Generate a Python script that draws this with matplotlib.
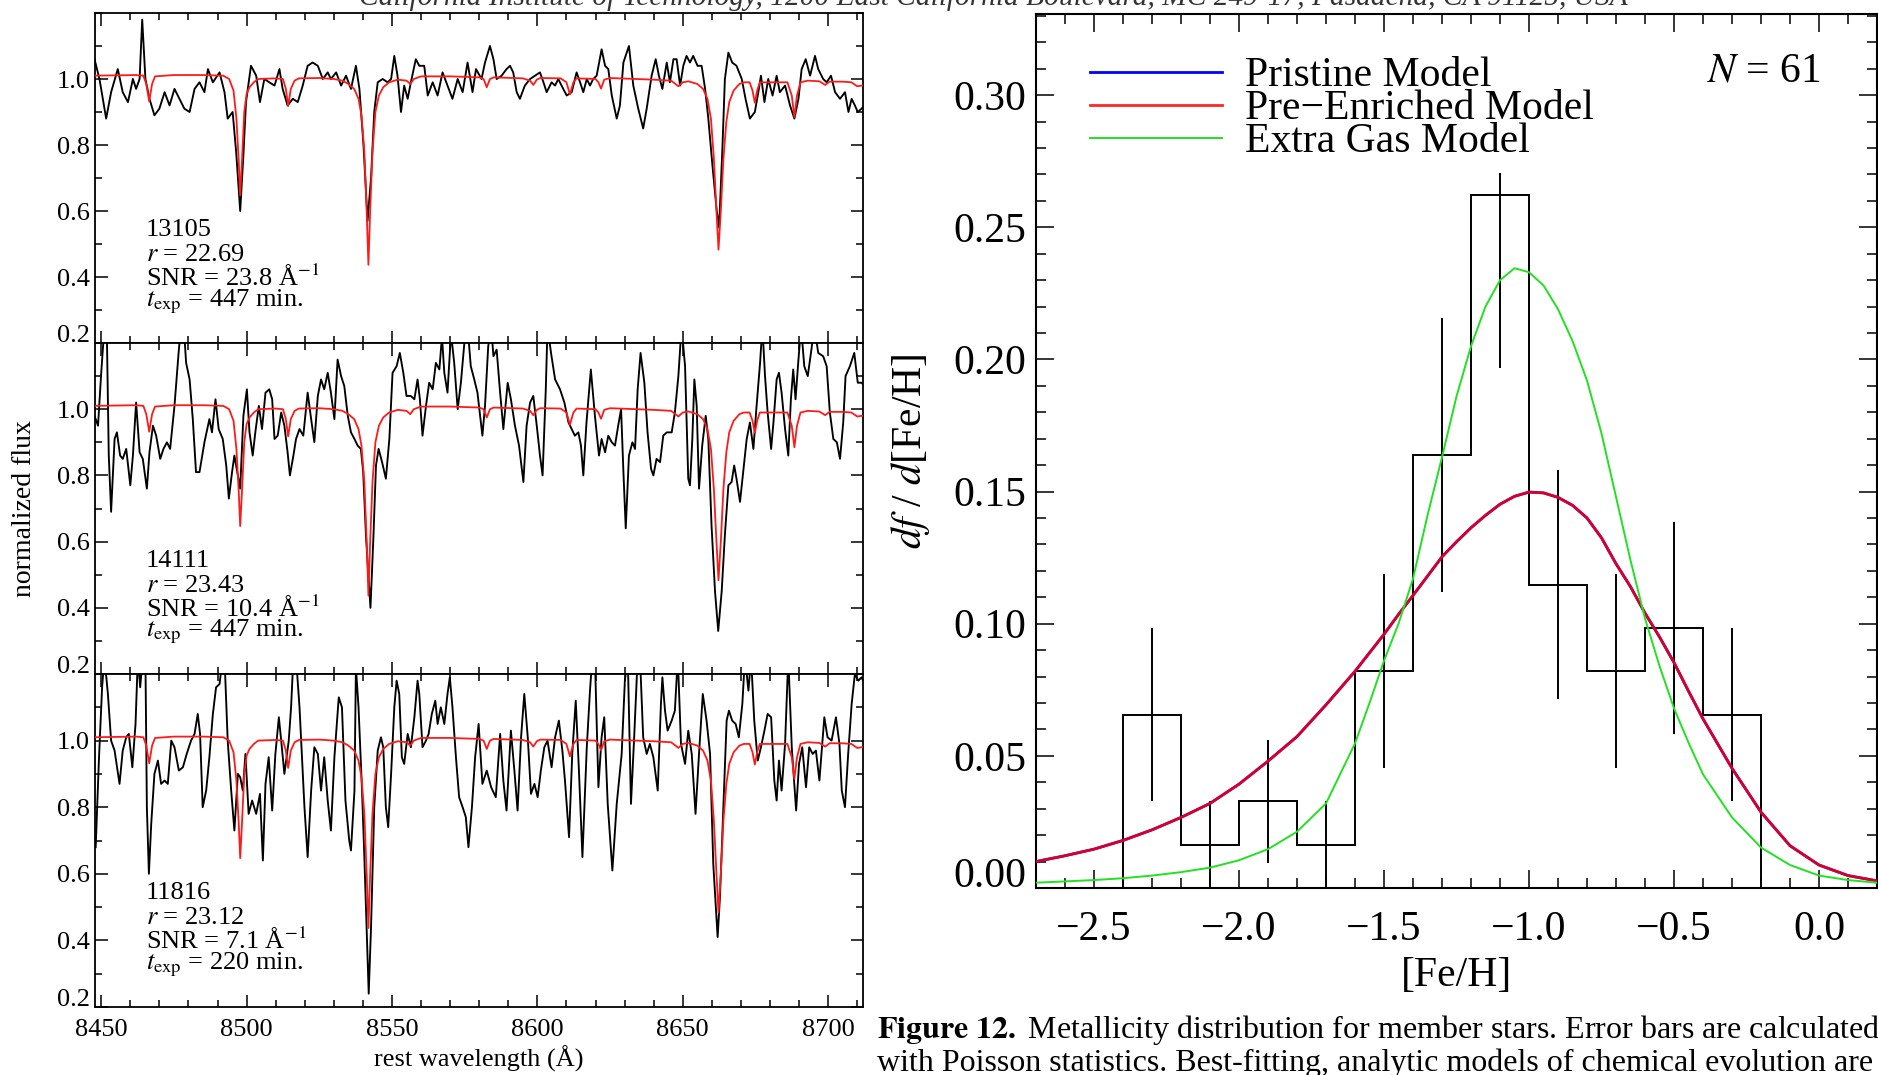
import matplotlib
matplotlib.use('Agg')
import matplotlib.pyplot as plt
from matplotlib.ticker import MultipleLocator
from matplotlib.transforms import ScaledTranslation

plt.rcParams['font.family'] = ['Liberation Serif', 'DejaVu Serif']
plt.rcParams['mathtext.fontset'] = 'stix'
plt.rcParams['axes.unicode_minus'] = True

# ---------------- spectra (rest wavelength, normalized flux) ----------------
wave_13105 = [8447.7, 8449.4, 8451.7, 8453.4, 8455.7, 8457.4, 8459.2, 8460.9, 8462.0, 8463.2,
              8464.1, 8465.2, 8466.6, 8468.3, 8470.0, 8471.8, 8473.5, 8475.2, 8476.9, 8478.6,
              8480.4, 8482.1, 8483.8, 8485.5, 8486.7, 8488.4, 8490.7, 8492.4, 8493.5, 8495.2,
              8496.4, 8497.8, 8498.9, 8499.8, 8501.5, 8503.3, 8504.6, 8506.1, 8507.8, 8509.6,
              8511.3, 8512.4, 8514.1, 8515.9, 8517.6, 8519.3, 8521.0, 8522.7, 8524.5, 8526.2,
              8527.9, 8529.0, 8530.8, 8532.5, 8534.2, 8535.9, 8537.6, 8538.8, 8540.2, 8541.6,
              8542.8, 8543.9, 8545.1, 8546.8, 8548.5, 8549.7, 8550.8, 8551.9, 8553.1, 8554.2,
              8555.4, 8556.5, 8558.2, 8559.4, 8561.1, 8562.3, 8564.0, 8565.7, 8567.4, 8569.1,
              8570.8, 8572.6, 8574.3, 8576.0, 8577.7, 8578.9, 8580.8, 8582.0, 8583.7, 8584.9,
              8586.0, 8587.7, 8589.4, 8590.6, 8591.7, 8592.9, 8594.0, 8595.7, 8597.5, 8599.2,
              8600.9, 8602.1, 8603.2, 8604.9, 8606.1, 8607.2, 8608.9, 8610.1, 8611.8, 8613.5,
              8614.7, 8615.8, 8617.0, 8618.1, 8619.2, 8620.4, 8622.1, 8623.3, 8624.4, 8625.6,
              8627.3, 8628.4, 8629.6, 8631.5, 8633.0, 8634.7, 8636.4, 8637.6, 8639.3, 8640.7,
              8641.8, 8643.0, 8644.5, 8645.6, 8646.8, 8647.9, 8649.1, 8650.2, 8651.3, 8652.5,
              8653.6, 8655.1, 8656.5, 8657.7, 8658.8, 8660.2, 8661.7, 8662.5, 8663.6, 8664.5,
              8665.7, 8667.0, 8668.5, 8670.3, 8671.6, 8673.1, 8674.8, 8676.0, 8676.9, 8678.1,
              8679.4, 8680.9, 8682.3, 8683.4, 8685.2, 8686.9, 8688.4, 8689.8, 8690.9, 8692.3,
              8693.8, 8695.5, 8696.6, 8698.3, 8699.5, 8701.0, 8702.4, 8704.1, 8705.8, 8707.0,
              8708.1, 8709.2, 8710.2, 8711.5, 8712.5]
flux_13105 = [1.06, 1.00, 0.88, 0.96, 1.03, 0.96, 0.93, 1.00, 0.97, 1.00,
              1.18, 1.00, 0.94, 0.89, 0.91, 0.96, 0.92, 0.97, 0.94, 0.91,
              0.90, 0.97, 0.99, 0.96, 1.03, 0.99, 1.02, 0.96, 0.88, 0.90,
              0.78, 0.60, 0.77, 0.93, 1.04, 1.01, 0.93, 1.00, 0.99, 0.98,
              1.03, 0.97, 0.92, 0.94, 0.93, 0.98, 1.04, 1.05, 1.04, 1.00,
              1.02, 1.00, 1.02, 0.98, 1.01, 0.97, 1.04, 0.97, 0.80, 0.57,
              0.70, 0.90, 0.99, 1.00, 0.99, 1.00, 1.07, 1.01, 0.90, 0.98,
              0.94, 0.99, 1.06, 1.04, 1.04, 0.95, 0.99, 0.95, 1.02, 0.98,
              0.94, 1.00, 0.96, 1.05, 0.96, 1.03, 1.00, 1.05, 1.10, 1.06,
              1.00, 1.01, 1.03, 1.04, 1.02, 0.96, 0.94, 0.98, 1.00, 1.01,
              1.02, 0.99, 0.96, 0.99, 0.98, 1.00, 0.97, 0.95, 0.96, 1.02,
              0.99, 0.96, 1.00, 0.98, 1.00, 1.01, 1.09, 1.04, 1.03, 0.95,
              0.88, 0.92, 1.05, 1.10, 0.98, 0.91, 0.85, 0.91, 1.01, 1.06,
              1.01, 0.97, 1.05, 0.99, 1.06, 1.06, 0.98, 1.04, 1.07, 1.05,
              1.07, 1.04, 1.04, 0.97, 0.88, 0.74, 0.60, 0.55, 0.78, 1.00,
              1.08, 1.05, 1.04, 1.00, 0.94, 0.88, 0.90, 0.96, 1.01, 0.93,
              1.00, 0.95, 1.01, 0.96, 0.98, 0.92, 0.88, 0.94, 1.03, 1.06,
              1.01, 1.07, 1.03, 1.00, 0.99, 1.01, 0.96, 0.94, 0.96, 0.90,
              0.94, 0.92, 0.90, 0.91, 0.92]

wave_14111 = [8447.7, 8448.9, 8450.0, 8451.1, 8451.9, 8452.6, 8453.4, 8454.6, 8455.4, 8456.5,
              8457.4, 8458.6, 8460.0, 8460.9, 8462.0, 8463.2, 8464.3, 8465.7, 8466.6, 8467.8,
              8468.9, 8470.3, 8471.4, 8472.6, 8473.7, 8475.2, 8476.7, 8477.5, 8478.4, 8479.2,
              8480.4, 8481.5, 8482.6, 8483.8, 8485.5, 8487.2, 8488.1, 8489.3, 8490.4, 8491.8,
              8493.0, 8493.9, 8495.0, 8495.8, 8497.0, 8497.8, 8498.9, 8500.1, 8501.0, 8502.1,
              8503.0, 8504.2, 8505.3, 8506.5, 8507.8, 8508.8, 8509.6, 8510.7, 8511.9, 8513.0,
              8514.1, 8514.9, 8516.1, 8517.0, 8518.2, 8519.5, 8521.0, 8522.2, 8523.3, 8524.5,
              8525.6, 8526.7, 8527.9, 8529.0, 8530.2, 8531.3, 8532.5, 8533.6, 8534.8, 8535.9,
              8537.1, 8538.2, 8539.3, 8540.1, 8541.1, 8542.6, 8543.6, 8544.5, 8545.4, 8546.6,
              8547.9, 8549.1, 8550.2, 8551.6, 8552.7, 8553.9, 8555.0, 8556.5, 8557.7, 8558.8,
              8559.6, 8560.5, 8561.7, 8562.8, 8564.0, 8565.1, 8566.3, 8567.2, 8568.0, 8569.1,
              8570.3, 8571.4, 8572.6, 8573.7, 8574.9, 8576.0, 8577.1, 8578.3, 8579.4, 8581.1,
              8582.0, 8583.1, 8584.1, 8584.9, 8586.0, 8587.1, 8588.3, 8589.8, 8590.9, 8592.3,
              8593.7, 8595.2, 8596.3, 8597.5, 8598.6, 8599.8, 8600.9, 8601.8, 8602.9, 8603.5,
              8604.7, 8606.1, 8607.8, 8609.3, 8610.7, 8611.8, 8612.9, 8614.1, 8615.0, 8615.8,
              8616.9, 8618.4, 8619.8, 8621.2, 8622.1, 8623.3, 8624.4, 8625.6, 8626.7, 8627.8,
              8628.8, 8629.6, 8630.4, 8631.5, 8632.7, 8633.6, 8634.5, 8635.5, 8636.8, 8637.9,
              8639.1, 8639.9, 8641.0, 8642.2, 8643.3, 8644.5, 8646.2, 8647.3, 8648.5, 8649.6,
              8650.8, 8651.9, 8652.5, 8653.3, 8654.0, 8654.8, 8655.6, 8656.7, 8657.9, 8658.8,
              8659.9, 8661.1, 8662.2, 8663.4, 8664.5, 8665.7, 8666.8, 8667.7, 8668.5, 8669.7,
              8670.8, 8672.0, 8673.1, 8674.3, 8675.4, 8676.6, 8677.4, 8678.3, 8679.2, 8680.4,
              8681.2, 8682.3, 8683.1, 8684.0, 8685.2, 8686.3, 8687.2, 8688.0, 8688.8, 8689.8,
              8690.7, 8691.8, 8693.0, 8694.1, 8695.3, 8696.6, 8698.3, 8699.5, 8700.6, 8701.8,
              8703.0, 8704.1, 8705.2, 8706.0, 8707.5, 8709.0, 8710.2, 8711.5, 8712.5]
flux_14111 = [0.98, 0.95, 1.11, 1.25, 1.25, 0.86, 0.69, 0.91, 0.93, 0.86,
              0.85, 0.88, 0.77, 0.86, 1.02, 0.87, 0.85, 0.76, 0.87, 0.95,
              0.92, 0.85, 0.88, 0.90, 0.88, 1.01, 1.18, 1.25, 1.25, 1.14,
              1.09, 0.97, 0.81, 0.81, 0.90, 0.97, 0.93, 1.03, 0.94, 0.91,
              0.83, 0.73, 0.81, 0.86, 0.80, 0.76, 0.98, 1.06, 0.93, 0.86,
              0.93, 1.01, 0.94, 1.05, 1.06, 1.03, 0.91, 0.92, 0.99, 0.95,
              0.87, 0.80, 0.86, 0.91, 0.94, 0.92, 1.05, 0.97, 0.90, 1.04,
              1.09, 1.06, 1.11, 1.05, 0.97, 1.15, 1.10, 1.07, 0.98, 0.93,
              0.91, 0.89, 0.88, 0.81, 0.61, 0.40, 0.61, 0.83, 0.88, 0.84,
              0.79, 0.91, 1.11, 1.13, 1.17, 1.11, 1.04, 1.04, 1.03, 1.09,
              1.03, 0.92, 1.01, 1.08, 1.06, 1.14, 1.12, 1.22, 1.11, 1.05,
              1.23, 1.14, 1.00, 1.08, 1.20, 1.25, 1.13, 1.09, 1.05, 0.92,
              1.01, 1.19, 1.25, 1.16, 1.18, 1.06, 0.94, 1.08, 1.03, 0.95,
              0.89, 0.78, 0.95, 1.02, 1.04, 0.95, 0.86, 0.80, 1.06, 1.25,
              1.17, 1.09, 1.06, 1.02, 0.96, 0.94, 0.92, 0.93, 0.89, 0.80,
              0.96, 1.12, 0.98, 0.86, 0.91, 0.87, 0.92, 0.90, 0.89, 0.95,
              1.00, 0.81, 0.64, 0.86, 0.90, 0.88, 1.06, 1.17, 1.08, 0.93,
              0.82, 0.80, 0.85, 0.84, 0.92, 0.93, 0.93, 0.99, 1.10, 1.25,
              1.13, 0.79, 0.77, 0.91, 1.09, 1.01, 0.76, 0.89, 0.98, 0.91,
              0.65, 0.45, 0.33, 0.45, 0.62, 0.77, 0.78, 0.83, 0.79, 0.72,
              0.81, 0.91, 0.96, 0.88, 1.01, 1.14, 1.25, 1.10, 0.99, 0.88,
              0.96, 1.09, 1.11, 1.05, 0.94, 0.86, 1.03, 1.12, 1.03, 1.15,
              1.25, 1.13, 1.10, 1.17, 1.25, 1.17, 1.16, 1.13, 0.99, 0.91,
              0.90, 0.85, 0.96, 1.10, 1.13, 1.17, 1.08, 1.08, 1.07]

wave_11816 = [8448.1, 8449.2, 8450.3, 8451.1, 8452.3, 8453.4, 8454.6, 8456.3, 8457.4, 8458.6,
              8459.5, 8460.7, 8461.8, 8462.6, 8463.4, 8464.3, 8465.2, 8465.7, 8466.4, 8467.2,
              8468.3, 8469.5, 8470.6, 8471.8, 8472.9, 8474.1, 8475.2, 8476.7, 8478.1, 8479.4,
              8480.9, 8482.1, 8483.2, 8484.0, 8484.9, 8486.1, 8487.2, 8488.4, 8489.5, 8490.7,
              8491.8, 8492.4, 8493.5, 8494.7, 8495.8, 8497.0, 8497.8, 8498.7, 8499.6, 8500.7,
              8501.9, 8503.3, 8504.6, 8505.6, 8506.5, 8507.6, 8508.8, 8509.9, 8511.1, 8511.9,
              8513.0, 8514.5, 8515.3, 8516.1, 8517.0, 8518.2, 8519.9, 8521.0, 8522.2, 8523.3,
              8524.5, 8525.6, 8526.7, 8527.9, 8529.0, 8530.2, 8531.7, 8532.8, 8534.0, 8535.3,
              8535.9, 8537.1, 8537.6, 8538.5, 8539.7, 8540.5, 8541.4, 8542.0, 8542.8, 8543.9,
              8545.1, 8546.2, 8547.0, 8547.9, 8548.7, 8549.7, 8550.8, 8551.6, 8552.5, 8553.4,
              8554.2, 8555.4, 8556.5, 8557.7, 8558.8, 8559.4, 8560.5, 8561.7, 8562.6, 8563.7,
              8564.9, 8565.7, 8566.8, 8568.0, 8569.1, 8569.9, 8570.8, 8572.0, 8573.1, 8574.3,
              8575.4, 8576.3, 8577.5, 8578.6, 8579.8, 8581.1, 8582.6, 8584.1, 8585.7, 8587.2,
              8588.3, 8589.4, 8590.9, 8592.1, 8593.2, 8594.4, 8595.5, 8596.7, 8597.8, 8599.0,
              8600.1, 8601.2, 8602.4, 8603.5, 8604.9, 8606.1, 8607.4, 8608.6, 8609.5, 8610.9,
              8612.0, 8613.2, 8614.3, 8615.5, 8617.0, 8618.1, 8618.9, 8619.8, 8621.0, 8622.1,
              8623.0, 8624.2, 8625.8, 8627.3, 8629.0, 8630.1, 8631.1, 8632.2, 8633.3, 8634.5,
              8635.3, 8636.4, 8637.6, 8638.7, 8639.9, 8641.4, 8642.5, 8643.0, 8643.9, 8644.8,
              8646.2, 8647.3, 8648.3, 8649.4, 8650.8, 8651.9, 8653.1, 8654.4, 8655.6, 8656.9,
              8658.2, 8659.4, 8660.5, 8661.3, 8662.0, 8662.8, 8664.0, 8665.1, 8665.9, 8667.0,
              8668.2, 8669.3, 8670.5, 8671.4, 8672.6, 8673.5, 8674.6, 8675.8, 8676.9, 8678.1,
              8679.2, 8680.4, 8681.5, 8682.3, 8683.1, 8684.0, 8685.2, 8686.3, 8687.5, 8689.0,
              8690.0, 8691.1, 8692.4, 8693.5, 8694.7, 8695.8, 8697.0, 8698.7, 8699.8, 8701.2,
              8702.7, 8703.9, 8704.7, 8705.8, 8706.9, 8708.1, 8709.2, 8710.4, 8711.5, 8712.5]
flux_11816 = [0.68, 0.94, 1.16, 1.25, 1.14, 1.00, 0.97, 0.87, 0.97, 1.01,
              1.02, 0.92, 1.05, 1.25, 1.16, 1.25, 1.25, 0.80, 0.60, 0.75,
              0.90, 0.94, 0.87, 0.88, 0.87, 1.00, 0.98, 0.91, 0.92, 0.96,
              1.00, 1.02, 1.08, 1.02, 0.80, 0.85, 0.95, 1.08, 1.16, 1.17,
              1.25, 1.25, 1.00, 0.85, 0.73, 0.90, 0.89, 0.85, 0.96, 0.78,
              0.82, 0.78, 0.84, 0.64, 0.87, 0.95, 0.79, 0.96, 1.07, 1.00,
              0.90, 1.00, 1.10, 1.25, 1.25, 1.10, 0.80, 0.65, 0.85, 0.98,
              0.96, 0.85, 0.95, 0.82, 0.73, 0.95, 1.13, 1.10, 0.82, 0.70,
              0.67, 0.85, 1.22, 1.10, 0.85, 0.65, 0.40, 0.24, 0.44, 0.80,
              0.97, 1.01, 0.98, 0.80, 0.74, 0.90, 1.10, 1.18, 1.14, 0.95,
              0.93, 1.02, 0.98, 1.07, 1.18, 1.14, 0.98, 1.00, 1.02, 1.08,
              1.12, 1.05, 1.10, 1.05, 1.14, 1.19, 1.10, 0.95, 0.83, 0.80,
              0.77, 0.68, 0.80, 0.95, 1.05, 0.87, 0.91, 0.86, 0.83, 1.02,
              0.88, 0.79, 1.03, 0.91, 0.79, 1.01, 1.14, 1.01, 0.84, 0.87,
              0.83, 0.91, 0.98, 1.00, 0.92, 1.01, 1.06, 0.97, 0.88, 0.71,
              0.96, 1.12, 0.91, 0.65, 0.98, 1.15, 1.25, 1.25, 0.86, 1.01,
              1.07, 0.81, 0.61, 0.81, 0.96, 1.18, 1.25, 0.81, 1.01, 1.25,
              1.25, 1.01, 0.96, 0.99, 0.95, 0.85, 1.11, 1.19, 1.09, 1.03,
              1.06, 1.09, 1.25, 0.99, 0.93, 1.03, 0.96, 0.78, 0.96, 1.14,
              1.06, 0.96, 0.63, 0.51, 0.41, 0.53, 0.81, 1.06, 1.09, 1.06,
              1.05, 1.01, 1.11, 1.25, 1.15, 1.25, 1.06, 0.94, 0.98, 1.03,
              1.08, 1.07, 0.88, 0.82, 0.94, 0.85, 0.99, 1.25, 0.98, 0.79,
              0.93, 0.98, 0.86, 0.98, 0.96, 0.97, 0.88, 1.07, 1.01, 1.00,
              1.07, 0.99, 0.85, 0.80, 0.96, 1.11, 1.20, 1.18, 1.19, 1.17]

# best-fitting synthetic spectrum (same template drawn in every panel)
model_wave = [8447.0, 8462.0, 8464.5, 8465.5, 8466.5, 8467.5, 8468.5, 8475.0, 8485.0, 8492.0,
              8494.0, 8495.5, 8496.5, 8497.3, 8497.8, 8498.4, 8499.2, 8500.0, 8501.0, 8502.5,
              8504.0, 8510.0, 8512.5, 8513.5, 8514.3, 8515.2, 8516.5, 8518.0, 8525.0, 8530.0,
              8533.0, 8535.0, 8537.0, 8538.5, 8539.5, 8540.5, 8541.3, 8541.9, 8542.5, 8543.3,
              8544.3, 8545.5, 8547.0, 8549.0, 8552.0, 8555.0, 8556.3, 8557.5, 8560.0, 8570.0,
              8580.0, 8581.5, 8582.6, 8583.7, 8585.0, 8595.0, 8597.5, 8598.6, 8599.8, 8601.0,
              8608.0, 8610.0, 8611.2, 8612.4, 8613.5, 8620.0, 8621.0, 8621.9, 8623.0, 8625.0,
              8640.0, 8646.0, 8647.5, 8648.5, 8650.0, 8652.0, 8655.0, 8657.0, 8658.5, 8659.7,
              8660.7, 8661.6, 8662.3, 8663.1, 8664.0, 8665.0, 8666.0, 8667.5, 8669.5, 8671.0,
              8673.0, 8674.0, 8674.8, 8675.6, 8676.5, 8686.0, 8687.5, 8688.4, 8689.3, 8690.5,
              8693.0, 8697.0, 8699.0, 8700.5, 8705.0, 8708.0, 8710.0, 8713.0]
model_flux = [1.010, 1.012, 1.010, 0.985, 0.932, 0.985, 1.008, 1.012, 1.012, 1.010,
              1.000, 0.965, 0.880, 0.750, 0.647, 0.750, 0.900, 0.955, 0.975, 0.990,
              1.000, 1.002, 1.000, 0.970, 0.918, 0.970, 0.995, 1.002, 1.003, 1.000,
              0.995, 0.985, 0.970, 0.940, 0.890, 0.780, 0.600, 0.437, 0.600, 0.780,
              0.900, 0.950, 0.975, 0.990, 0.998, 0.995, 0.985, 1.000, 1.008, 1.008,
              1.005, 1.000, 0.975, 1.000, 1.005, 1.002, 0.995, 0.982, 0.998, 1.003,
              1.002, 0.990, 0.953, 0.990, 1.002, 1.000, 0.990, 0.971, 0.998, 1.003,
              0.998, 0.995, 0.985, 0.978, 0.990, 0.993, 0.985, 0.970, 0.940, 0.880,
              0.760, 0.600, 0.483, 0.600, 0.760, 0.870, 0.930, 0.965, 0.985, 0.990,
              0.990, 0.965, 0.928, 0.965, 0.990, 0.990, 0.950, 0.885, 0.950, 0.990,
              0.995, 0.993, 0.982, 0.992, 0.992, 0.990, 0.978, 0.982]

star_ids = ['13105', '14111', '11816']
star_rmag = ['22.69', '23.43', '23.12']
star_snr = ['23.8', '10.4', '7.1']
star_texp = ['447', '447', '220']

# ---------------- metallicity distribution ----------------
feh_edges = [-2.4, -2.2, -2.0, -1.8, -1.6, -1.4, -1.2, -1.0, -0.8, -0.6, -0.4, -0.2]
feh_centers = [-2.3, -2.1, -1.9, -1.7, -1.5, -1.3, -1.1, -0.9, -0.7, -0.5, -0.3]
mdf_values = [0.0656, 0.0164, 0.0328, 0.0164, 0.0820, 0.1639, 0.2623, 0.1148, 0.0820, 0.0984, 0.0656]
mdf_err_low = [0.0328, 0.0164, 0.0232, 0.0164, 0.0367, 0.0518, 0.0656, 0.0434, 0.0367, 0.0402, 0.0328]
mdf_err_high = [0.0328, 0.0164, 0.0232, 0.0164, 0.0367, 0.0518, 0.0083, 0.0434, 0.0367, 0.0402, 0.0328]

model_feh = [-2.7, -2.6, -2.5, -2.4, -2.3, -2.2, -2.1, -2.0, -1.9, -1.8, -1.7, -1.6,
             -1.55, -1.5, -1.45, -1.4, -1.35, -1.3, -1.25, -1.2, -1.15, -1.1, -1.05, -1.0,
             -0.95, -0.9, -0.85, -0.8, -0.75, -0.7, -0.65, -0.6, -0.55, -0.5, -0.45, -0.4,
             -0.3, -0.2, -0.1, 0.0, 0.1, 0.2]
pre_enriched_model = [0.0100, 0.0122, 0.0147, 0.0180, 0.0220, 0.0267, 0.0320, 0.0393, 0.0480, 0.0573,
                      0.0693, 0.0820, 0.0890, 0.0960, 0.1035, 0.1107, 0.1180, 0.1253, 0.1310, 0.1363,
                      0.1410, 0.1452, 0.1482, 0.1498, 0.1495, 0.1478, 0.1448, 0.1400, 0.1325, 0.1227,
                      0.1140, 0.1040, 0.0950, 0.0853, 0.0745, 0.0640, 0.0453, 0.0287, 0.0160, 0.0087,
                      0.0047, 0.0027]
pristine_model = pre_enriched_model  # indistinguishable from the pre-enriched curve in the figure
extra_gas_model = [0.0020, 0.0025, 0.0030, 0.0037, 0.0047, 0.0060, 0.0077, 0.0105, 0.0147, 0.0213,
                   0.0320, 0.0547, 0.0700, 0.0860, 0.1000, 0.1170, 0.1410, 0.1630, 0.1860, 0.2050,
                   0.2200, 0.2300, 0.2345, 0.2330, 0.2280, 0.2190, 0.2070, 0.1920, 0.1720, 0.1480,
                   0.1240, 0.1020, 0.0840, 0.0680, 0.0550, 0.0430, 0.0267, 0.0153, 0.0087, 0.0047,
                   0.0030, 0.0020]
n_members = 61

# ---------------- figure ----------------
W, H = 1878, 1075
fig = plt.figure(figsize=(W / 100, H / 100), dpi=100)


def box(l, t, r, b):
    return [l / W, 1 - b / H, (r - l) / W, (b - t) / H]


def shift_first_ylabel(ax, dy_pt):
    lab = ax.yaxis.get_major_ticks()[0].label1
    lab.set_transform(lab.get_transform() + ScaledTranslation(0, dy_pt / 72, fig.dpi_scale_trans))


spectra = [(wave_13105, flux_13105), (wave_14111, flux_14111), (wave_11816, flux_11816)]
boxes = [(95.4, 13, 863, 343), (95.4, 343, 863, 674), (95.4, 674, 863, 1007)]
left_axes = []
for i, ((w, f), bx) in enumerate(zip(spectra, boxes)):
    ax = fig.add_axes(box(*bx))
    left_axes.append(ax)
    ax.plot(w, f, color='black', lw=1.35, zorder=2)
    ax.plot(model_wave, model_flux, color='#ff1a1a', lw=1.3, zorder=3)
    ax.set_xlim(8448, 8712)
    ax.set_ylim(0.2, 1.2)
    ax.set_yticks([0.2, 0.4, 0.6, 0.8, 1.0], labels=['0.2', '0.4', '0.6', '0.8', '1.0'])
    ax.yaxis.set_minor_locator(MultipleLocator(0.1))
    ax.xaxis.set_major_locator(MultipleLocator(50))
    ax.xaxis.set_minor_locator(MultipleLocator(10))
    ax.tick_params(which='both', direction='in', top=True, right=True, width=1.1,
                   labelsize=19, pad=4)
    ax.tick_params(which='major', length=9)
    ax.tick_params(which='minor', length=5)
    ax.tick_params(axis='x', pad=9, labelbottom=(i == 2))
    for s in ax.spines.values():
        s.set_linewidth(1.3)
    shift_first_ylabel(ax, 7)
    tx = 0.066
    ax.text(tx, 0.342, star_ids[i], transform=ax.transAxes, fontsize=19, va='center')
    ax.text(tx, 0.267, r'$r$ = ' + star_rmag[i], transform=ax.transAxes, fontsize=19, va='center')
    ax.text(tx, 0.197, 'SNR = ' + star_snr[i] + r' Å$^{-1}$', transform=ax.transAxes,
            fontsize=19, va='center')
    ax.text(tx, 0.126, r'$t_{\rm exp}$ = ' + star_texp[i] + ' min.', transform=ax.transAxes,
            fontsize=19, va='center')

left_axes[1].set_ylabel('normalized flux', fontsize=20)
left_axes[1].yaxis.set_label_coords(-0.076, 0.5)
left_axes[2].set_xlabel('rest wavelength (Å)', fontsize=19)
left_axes[2].xaxis.set_label_coords(0.5, -0.115)

# right panel
axr = fig.add_axes(box(1036, 14, 1877, 888))
axr.stairs(mdf_values, feh_edges, baseline=0, color='black', lw=1.4, zorder=2)
axr.errorbar(feh_centers, mdf_values, yerr=[mdf_err_low, mdf_err_high], fmt='none',
             ecolor='black', elinewidth=1.4, capsize=0, zorder=2)
l_pri, = axr.plot(model_feh, pristine_model, color='#0000ff', lw=2.0, zorder=3,
                  label='Pristine Model')
l_pre, = axr.plot(model_feh, pre_enriched_model, color='#ff0000', lw=2.0, alpha=0.85, zorder=4,
                  label='Pre−Enriched Model')
l_gas, = axr.plot(model_feh, extra_gas_model, color='#22e022', lw=1.4, zorder=5,
                  label='Extra Gas Model')
axr.set_xlim(-2.7, 0.2)
axr.set_ylim(0.0, 0.3307)
axr.set_xticks([-2.5, -2.0, -1.5, -1.0, -0.5, 0.0])
axr.set_yticks([0.0, 0.05, 0.10, 0.15, 0.20, 0.25, 0.30],
               labels=['0.00', '0.05', '0.10', '0.15', '0.20', '0.25', '0.30'])
axr.xaxis.set_minor_locator(MultipleLocator(0.1))
axr.yaxis.set_minor_locator(MultipleLocator(0.01))
axr.tick_params(which='both', direction='in', top=True, right=True, width=1.1, labelsize=30)
axr.tick_params(which='major', length=13)
axr.tick_params(which='minor', length=7)
axr.tick_params(axis='x', pad=16)
axr.tick_params(axis='y', pad=7)
for s in axr.spines.values():
    s.set_linewidth(1.5)
shift_first_ylabel(axr, 11)
axr.set_xlabel('[Fe/H]', fontsize=30)
axr.xaxis.set_label_coords(0.5, -0.078)
axr.set_ylabel(r'$df$ / $d$[Fe/H]', fontsize=30)
axr.yaxis.set_label_coords(-0.124, 0.5)
axr.legend(handles=[l_pri, l_pre, l_gas], loc='upper left', bbox_to_anchor=(0.064, 0.951),
           frameon=False, fontsize=30, handlelength=3.17, handletextpad=0.55,
           labelspacing=-0.13, borderaxespad=0, borderpad=0)
axr.text(0.933, 0.934, r'$N$ = %d' % n_members, transform=axr.transAxes, fontsize=30,
         ha='right', va='center')

# page text around the figure
fig.text(0.529, 1 - 5 / H, 'California Institute of Technology, 1200 East California Boulevard, '
         'MC 249-17, Pasadena, CA 91125, USA', fontsize=21.2, style='italic', color='#333333',
         ha='center', va='baseline')
fig.text(877 / W, 1 - 1030 / H, r'$\mathbf{Figure\ 12.}$ Metallicity distribution for member stars. '
         'Error bars are calculated', fontsize=23, ha='left', va='center')
fig.text(877 / W, 1 - 1063 / H, 'with Poisson statistics. Best-fitting, analytic models of '
         'chemical evolution are', fontsize=23, ha='left', va='center')

fig.savefig('out.png', dpi=100)
